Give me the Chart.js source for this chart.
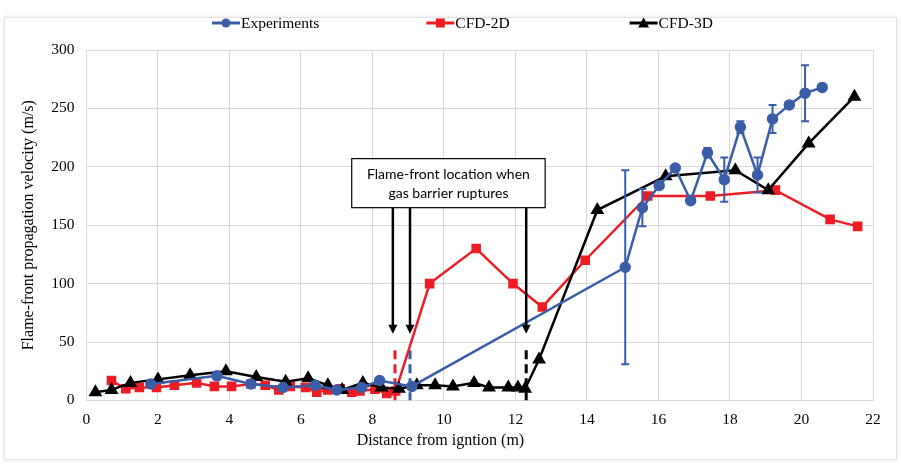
<!DOCTYPE html>
<html>
<head>
<meta charset="utf-8">
<script src="https://cdn.jsdelivr.net/npm/chart.js@4/dist/chart.umd.min.js"></script>
<style>
  html,body{margin:0;padding:0;background:#fff;}
  #frame{position:absolute;left:4px;top:17px;width:891px;height:441px;border:1px solid #e3e3e3;box-shadow:0 0 4px rgba(0,0,0,0.12);}
  #wrap{position:absolute;left:0;top:0;width:901px;height:466px;}
</style>
</head>
<body>
<div id="frame"></div>
<div id="wrap"><canvas id="c" width="901" height="466"></canvas></div>
<script>
// ---- Data ----
const expX = [1.8, 3.65, 4.6, 5.5, 6.4, 7.0, 7.7, 8.2, 9.1, 15.07, 15.55, 16.02, 16.47, 16.9, 17.37, 17.84, 18.29, 18.77, 19.19, 19.66, 20.1, 20.58];
const expY = [14, 21, 14, 11, 13, 9, 11, 17, 12, 114, 165, 184, 199, 171, 212, 189, 234, 193, 241, 253, 263, 268];
const expErr = [0, 0, 0, 0, 0, 0, 0, 0, 0, 83, 16, 0, 0, 0, 4, 19, 5, 15, 12, 0, 24, 0];

const cfd2dX = [0.7, 1.1, 1.48, 1.96, 2.46, 3.08, 3.58, 4.06, 4.6, 5.0, 5.38, 5.7, 6.13, 6.44, 6.75, 7.1, 7.42, 7.65, 8.07, 8.4, 8.65, 9.6, 10.9, 11.93, 12.75, 13.95, 15.7, 17.45, 19.27, 20.8, 21.57];
const cfd2dY = [17, 10, 11, 11, 13, 15, 12, 12, 14, 13, 9, 12, 11, 7, 9, 10, 7, 8, 9.5, 6, 8, 100, 130, 100, 80, 120, 175, 175, 180, 155, 149];

const cfd3dX = [0.25, 0.7, 1.23, 2.0, 2.9, 3.9, 4.75, 5.57, 6.2, 6.75, 7.15, 7.73, 8.25, 8.74, 9.24, 9.75, 10.25, 10.84, 11.26, 11.8, 12.07, 12.27, 12.66, 14.29, 16.2, 18.15, 19.07, 20.2, 21.48];
const cfd3dY = [7, 9, 15, 18, 21.5, 25, 20, 16, 19, 13, 9, 15, 11, 10, 13, 13, 12, 15, 11, 11, 11, 10, 35, 163, 192, 197, 180, 220, 260];

const seriesNames = ['Experiments', 'CFD-2D', 'CFD-3D'];
const xTicks = [0, 2, 4, 6, 8, 10, 12, 14, 16, 18, 20, 22];
const yTicks = [0, 50, 100, 150, 200, 250, 300];
const xTitle = 'Distance from igntion (m)';
const yTitle = 'Flame-front propagation velocity (m/s)';

// Gas barrier rupture locations (flame-front) for each series
const ruptureX = [8.63, 9.05, 12.3];
const ruptureDashTop = 43;
const arrowX = [8.57, 9.05, 12.3];
const arrowTipY = 57;
const noteLines = ['Flame-front location when', 'gas barrier ruptures'];
const noteBox = {x0: 7.42, x1: 12.83, y0: 207, y1: 165};

const BLUE = '#3a5da8', RED = '#ee1c25', BLACK = '#000000';
const serif = "'Liberation Serif', 'Times New Roman', serif";
const COLORS = [BLUE, RED, BLACK];
const STYLES = ['circle', 'rect', 'triangle'];

function pts(xs, ys){ return xs.map((x,i)=>({x:x, y:ys[i]})); }

function drawMarker(g, style, cx, cy, color){
  g.fillStyle = color;
  if (style === 'circle'){ g.beginPath(); g.arc(cx,cy,4.5,0,Math.PI*2); g.fill(); }
  else if (style === 'rect'){ g.fillRect(cx-4.5,cy-4.5,9,9); }
  else { g.beginPath(); g.moveTo(cx,cy-5.5); g.lineTo(cx+5.5,cy+4.5); g.lineTo(cx-5.5,cy+4.5); g.closePath(); g.fill(); }
}

// Legend drawn as real canvas text, laid out like the original
const topLegend = {
  id: 'topLegend',
  afterDraw(chart){
    const ctx = chart.ctx;
    ctx.save();
    ctx.font = "15.5px " + serif;
    ctx.textBaseline = 'middle'; ctx.textAlign = 'left';
    const iconW = 28, gapIcon = 1, gaps = [107, 120];
    let x = 212;
    const y = 23;
    seriesNames.forEach((n, i) => {
      ctx.strokeStyle = COLORS[i]; ctx.lineWidth = 3;
      ctx.beginPath(); ctx.moveTo(x, y); ctx.lineTo(x+iconW, y); ctx.stroke();
      drawMarker(ctx, STYLES[i], x+iconW/2, y, COLORS[i]);
      ctx.fillStyle = '#000';
      ctx.fillText(n, x+iconW+gapIcon, y+1);
      x += iconW + gapIcon + ctx.measureText(n).width + (gaps[i] || 0);
    });
    // x-axis title, placed like the original (a little left of the plot centre)
    ctx.font = "16px " + serif;
    ctx.textAlign = 'center';
    ctx.fillText(xTitle, chart.scales.x.getPixelForValue(9.9), 441);
    ctx.restore();
  }
};

const errorBars = {
  id: 'errorBars',
  afterDatasetsDraw(chart){
    const {ctx, scales:{x, y}} = chart;
    ctx.save();
    ctx.strokeStyle = BLUE; ctx.lineWidth = 2;
    expX.forEach((vx, i) => {
      const e = expErr[i];
      if (!e) return;
      const px = x.getPixelForValue(vx);
      const pt = y.getPixelForValue(expY[i] + e);
      const pb = y.getPixelForValue(expY[i] - e);
      ctx.beginPath();
      ctx.moveTo(px, pt); ctx.lineTo(px, pb);
      ctx.moveTo(px-4, pt); ctx.lineTo(px+4, pt);
      ctx.moveTo(px-4, pb); ctx.lineTo(px+4, pb);
      ctx.stroke();
    });
    ctx.restore();
  }
};

const note = {
  id: 'note',
  afterDraw(chart){
    const {ctx, scales:{x, y}} = chart;
    const bx0 = x.getPixelForValue(noteBox.x0), bx1 = x.getPixelForValue(noteBox.x1);
    const by0 = y.getPixelForValue(noteBox.y0), by1 = y.getPixelForValue(noteBox.y1);
    ctx.save();
    ctx.strokeStyle = '#000'; ctx.fillStyle = '#000'; ctx.lineWidth = 2.5;
    arrowX.forEach(ax => {
      const px = x.getPixelForValue(ax);
      const tip = y.getPixelForValue(arrowTipY);
      ctx.beginPath(); ctx.moveTo(px, by1); ctx.lineTo(px, tip - 6); ctx.stroke();
      ctx.beginPath(); ctx.moveTo(px, tip); ctx.lineTo(px-4.5, tip-9); ctx.lineTo(px+4.5, tip-9); ctx.closePath(); ctx.fill();
    });
    ctx.fillStyle = '#fff';
    ctx.fillRect(bx0, by0, bx1-bx0, by1-by0);
    ctx.lineWidth = 1.2; ctx.strokeStyle = '#000';
    ctx.strokeRect(bx0, by0, bx1-bx0, by1-by0);
    ctx.fillStyle = '#000';
    ctx.font = "14px Lato, 'Open Sans', sans-serif";
    ctx.textAlign = 'center'; ctx.textBaseline = 'middle';
    const cx = (bx0+bx1)/2, cy = (by0+by1)/2;
    ctx.fillText(noteLines[0], cx, cy - 9);
    ctx.fillText(noteLines[1], cx, cy + 10);
    ctx.restore();
  }
};

function dashSet(xv, color){
  return {label:'', data:[{x:xv, y:ruptureDashTop},{x:xv, y:0}], showLine:true, borderColor:color,
    borderWidth:3, borderDash:[9,5], pointRadius:0, pointHoverRadius:0, order:5};
}

new Chart(document.getElementById('c'), {
  type: 'scatter',
  data: {
    datasets: [
      {label: seriesNames[0], data: pts(expX, expY), showLine:true, borderColor:BLUE, backgroundColor:BLUE,
       borderWidth:2.5, pointStyle:'circle', pointRadius:4.5, order:1},
      {label: seriesNames[1], data: pts(cfd2dX, cfd2dY), showLine:true, borderColor:RED, backgroundColor:RED,
       borderWidth:2.5, pointStyle:'rect', pointRadius:5, order:3},
      {label: seriesNames[2], data: pts(cfd3dX, cfd3dY), showLine:true, borderColor:BLACK, backgroundColor:BLACK,
       borderWidth:2.5, pointStyle:'triangle', pointRadius:5.5, order:2},
      dashSet(ruptureX[0], RED),
      dashSet(ruptureX[1], BLUE),
      dashSet(ruptureX[2], BLACK)
    ]
  },
  options: {
    responsive:false, animation:false,
    layout:{padding:{left:19, right:28, top:50, bottom:16}},
    plugins:{
      tooltip:{enabled:false},
      legend:{display:false}
    },
    scales:{
      x:{type:'linear', min:0, max:22,
         afterBuildTicks(s){ s.ticks = xTicks.map(v=>({value:v})); },
         grid:{color:'#d9d9d9', drawTicks:false},
         border:{color:'#d9d9d9'},
         ticks:{font:{family:serif, size:15.5}, color:'#000', padding:10},
         title:{display:true, text:xTitle, font:{family:serif, size:15}, color:'rgba(0,0,0,0)', padding:{top:-7, bottom:0}}},
      y:{type:'linear', min:0, max:300,
         afterBuildTicks(s){ s.ticks = yTicks.map(v=>({value:v})); },
         grid:{color:'#d9d9d9', drawTicks:false},
         border:{color:'#d9d9d9'},
         ticks:{font:{family:serif, size:15.5}, color:'#000', padding:12},
         title:{display:true, text:yTitle, font:{family:serif, size:16}, color:'#000', padding:{top:0, bottom:1}}}
    }
  },
  plugins:[errorBars, note, topLegend]
});
</script>
</body>
</html>
